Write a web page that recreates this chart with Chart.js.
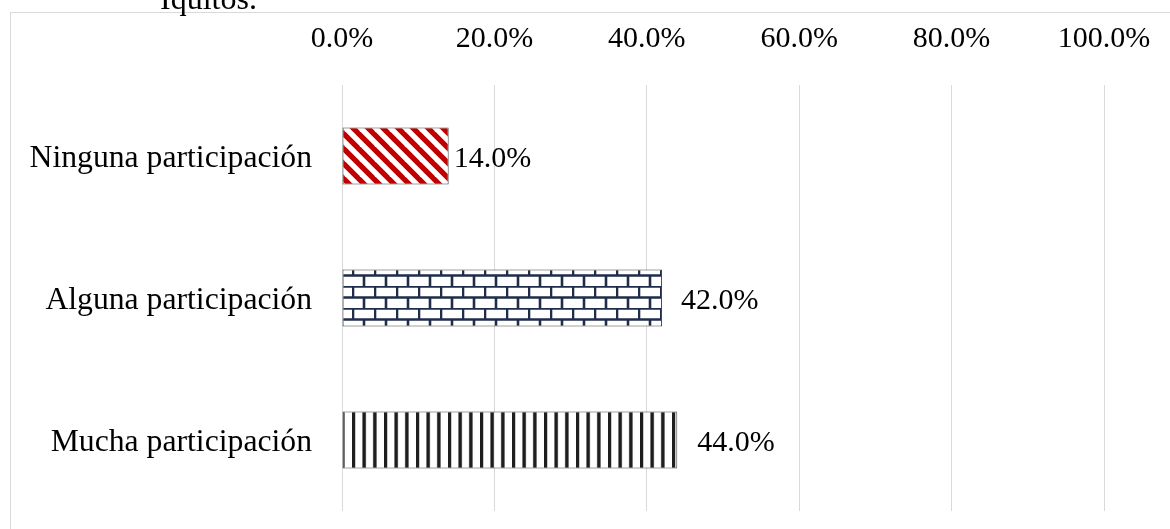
<!DOCTYPE html>
<html>
<head>
<meta charset="utf-8">
<script src="https://cdn.jsdelivr.net/npm/chart.js@4.4.1/dist/chart.umd.min.js"></script>
<style>
  html, body { margin: 0; padding: 0; background: #fff; overflow: hidden; }
  #wrap { position: relative; width: 1170px; height: 529px; }
  #chart { position: absolute; left: 0; top: 0; }
  #caption {
    position: absolute; left: 160px; top: -18px; margin: 0;
    font-family: "Liberation Serif", "Times New Roman", serif;
    font-size: 32px; line-height: 32px; color: #000; white-space: nowrap;
  }
</style>
</head>
<body>
<div id="wrap">
  <canvas id="chart" width="1170" height="529"></canvas>
  <p id="caption">Iquitos.</p>
</div>
<script>
// Categories and percentages (share of respondents)
const categories = ['Ninguna participación', 'Alguna participación', 'Mucha participación'];
const percentages = [14.0, 42.0, 44.0];
const xTicks = [0, 20, 40, 60, 80, 100];

const SERIF = '"Liberation Serif", "Times New Roman", serif';

// Fill patterns for each bar
function tile(w, h, draw) {
  const c = document.createElement('canvas');
  c.width = w; c.height = h;
  const g = c.getContext('2d');
  g.fillStyle = '#ffffff';
  g.fillRect(0, 0, w, h);
  draw(g, w, h);
  return document.getElementById('chart').getContext('2d').createPattern(c, 'repeat');
}

const diagonalRed = tile(15, 15, (g, w, h) => {
  g.strokeStyle = '#c00000';
  g.lineWidth = 5.3;
  for (let k = -1; k <= 1; k++) {
    g.beginPath();
    g.moveTo(k * w - 2, -2);
    g.lineTo(k * w + w + 2, h + 2);
    g.stroke();
  }
});

const bricks = tile(22, 22, (g, w, h) => {
  g.strokeStyle = '#1f2d4a';
  g.lineWidth = 2.6;
  g.beginPath();
  g.moveTo(0, 0.5); g.lineTo(w, 0.5);
  g.moveTo(0, 11.5); g.lineTo(w, 11.5);
  g.moveTo(1, 0); g.lineTo(1, 11.5);
  g.moveTo(12, 11.5); g.lineTo(12, 22);
  g.stroke();
});

const verticals = tile(32, 4, (g, w, h) => {
  g.fillStyle = '#9a9a94';
  for (let i = 0; i < 3; i++) g.fillRect(i * 10.67 - 0.5, 0, 4, h);
  g.fillStyle = '#1e1e1e';
  for (let i = 0; i < 3; i++) g.fillRect(i * 10.67, 0, 3, h);
});

// Light frame around the chart
const framePlugin = {
  id: 'frame',
  beforeDraw(chart) {
    const ctx = chart.ctx;
    ctx.save();
    ctx.strokeStyle = '#d9d9d9';
    ctx.lineWidth = 1;
    ctx.strokeRect(10.5, 12.5, 3000, 3000);
    ctx.restore();
  }
};

// Value labels to the right of each bar
const valueLabels = {
  id: 'valueLabels',
  afterDatasetsDraw(chart, args, opts) {
    const ctx = chart.ctx;
    const meta = chart.getDatasetMeta(0);
    ctx.save();
    ctx.font = opts.font;
    ctx.fillStyle = '#000';
    ctx.textAlign = 'left';
    ctx.textBaseline = 'middle';
    meta.data.forEach((bar, i) => {
      const v = chart.data.datasets[0].data[i];
      ctx.fillText(v.toFixed(1) + '%', bar.x + opts.gaps[i], bar.y + 3);
    });
    ctx.restore();
  }
};

new Chart(document.getElementById('chart'), {
  type: 'bar',
  data: {
    labels: categories,
    datasets: [{
      data: percentages,
      backgroundColor: [diagonalRed, bricks, verticals],
      borderColor: '#404040',
      borderWidth: 1,
      borderSkipped: false,
      categoryPercentage: 1,
      barPercentage: 0.4
    }]
  },
  options: {
    indexAxis: 'y',
    responsive: false,
    animation: false,
    layout: { padding: { left: 0, right: 66, top: 0, bottom: 18 } },
    plugins: {
      legend: { display: false },
      tooltip: { enabled: false },
      valueLabels: { font: '30px ' + SERIF, gaps: [5, 19, 20] }
    },
    scales: {
      x: {
        position: 'top',
        min: 0,
        max: 100,
        afterBuildTicks(scale) { scale.ticks = xTicks.map(v => ({ value: v })); },
        afterFit(scale) {
          scale.height = 85;
          scale.paddingLeft = 0; scale.paddingRight = 0;
          scale.paddingTop = 0; scale.paddingBottom = 0;
        },
        grid: { color: '#d9d9d9', lineWidth: 1, drawTicks: false },
        border: { display: false },
        ticks: {
          padding: 28,
          color: '#000',
          font: { family: SERIF, size: 30 },
          callback: v => v.toFixed(1) + '%'
        }
      },
      y: {
        afterFit(scale) {
          scale.width = 342;
          scale.paddingLeft = 0; scale.paddingRight = 0;
          scale.paddingTop = 0; scale.paddingBottom = 0;
        },
        grid: { display: false, drawTicks: false },
        border: { display: false },
        ticks: {
          padding: 30,
          labelOffset: 3,
          color: '#000',
          font: { family: SERIF, size: 31.7 }
        }
      }
    }
  },
  plugins: [framePlugin, valueLabels]
});
</script>
</body>
</html>
